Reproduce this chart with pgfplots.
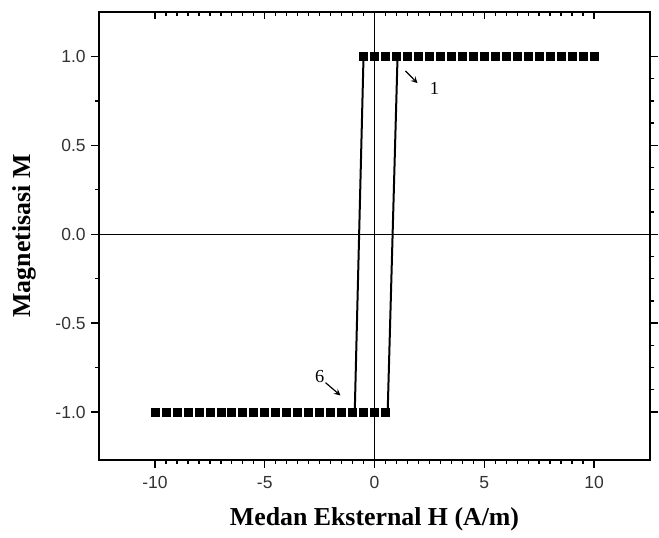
\documentclass[border=0pt]{standalone}
\usepackage{fontspec}
\setmainfont{Liberation Serif}
\setsansfont{Liberation Sans}
\usepackage{pgfplots}
\pgfplotsset{compat=1.18}
\pgfplotsset{
  common/.style={
    scale only axis,
    width=330.6pt, height=268.8pt,
    xmin=-12.55, xmax=12.55, ymin=-1.27, ymax=1.25,
    xtick={-10,-5,0,5,10},
    ytick={-1,-0.5,0,0.5,1},
    major tick length=4.5pt, minor tick length=2.4pt,
    every tick/.style={black, line width=0.8pt},
    axis line style={line width=1.1pt},
  }
}
\begin{document}
\begin{tikzpicture}
% top ticks (inside)
\begin{axis}[common,
  axis x line*=top, axis y line=none,
  tick align=inside, minor x tick num=9,
  xticklabels={}, ]
\addplot[draw=none] coordinates {(0,0)};
\end{axis}
% right ticks (outside)
\begin{axis}[common,
  axis y line*=right, axis x line=none,
  tick align=outside, minor y tick num=3,
  yticklabels={}, ]
\addplot[draw=none] coordinates {(0,0)};
\end{axis}
\begin{axis}[common,
  xtick pos=bottom, ytick pos=left,
  minor x tick num=9,
  minor y tick num=1,
  tick align=outside,
  /pgf/number format/assume math mode=true,
  ticklabel style={font=\sffamily\fontsize{10.5}{12}\selectfont, text=black!80},
  yticklabel style={/pgf/number format/fixed, /pgf/number format/fixed zerofill, /pgf/number format/precision=1},
  xticklabel style={/pgf/number format/fixed, yshift=-2pt},
  xlabel={\textbf{Medan Eksternal H (A/m)}},
  ylabel={\textbf{Magnetisasi M}},
  label style={font=\fontsize{15.5}{18}\selectfont},
  xlabel style={at={(axis description cs:0.5,-0.132)}, anchor=center},
  ylabel style={at={(axis description cs:-0.136,0.5)}, anchor=center},
  clip=false,
]
% reference axes lines
\addplot[black, line width=0.7pt, forget plot] coordinates {(0,-1.27) (0,1.25)};
\addplot[black, line width=0.7pt, forget plot] coordinates {(-12.55,0) (12.55,0)};
% loop branches
\addplot[black, line width=1.2pt, forget plot] coordinates {(-0.5,1) (-0.9,-1)};
\addplot[black, line width=1.2pt, forget plot] coordinates {(0.6,-1) (1.05,1)};
% upper saturated branch
\addplot[only marks, mark=square*, mark size=2.4pt, black] coordinates {
(-0.5,1)(0,1)(0.5,1)(1,1)(1.5,1)(2,1)(2.5,1)(3,1)(3.5,1)(4,1)(4.5,1)
(5,1)(5.5,1)(6,1)(6.5,1)(7,1)(7.5,1)(8,1)(8.5,1)(9,1)(9.5,1)(10,1)};
% lower saturated branch
\addplot[only marks, mark=square*, mark size=2.4pt, black] coordinates {
(-10,-1)(-9.5,-1)(-9,-1)(-8.5,-1)(-8,-1)(-7.5,-1)(-7,-1)(-6.5,-1)(-6,-1)(-5.5,-1)(-5,-1)
(-4.5,-1)(-4,-1)(-3.5,-1)(-3,-1)(-2.5,-1)(-2,-1)(-1.5,-1)(-1,-1)(-0.5,-1)(0,-1)(0.5,-1)};
% annotations
\draw[-stealth, line width=0.7pt] (axis cs:1.41,0.918) -- (axis cs:1.96,0.85);
\node[font=\fontsize{11}{13}\selectfont] at (axis cs:2.73,0.82) {1};
\draw[-stealth, line width=0.7pt] (axis cs:-2.23,-0.835) -- (axis cs:-1.55,-0.907);
\node[font=\fontsize{11}{13}\selectfont] at (axis cs:-2.5,-0.80) {6};
\end{axis}
\pgfresetboundingbox
\path (current axis.south west) ++(-59.4pt,-46.2pt) coordinate (bbA);
\path (current axis.north east) ++(5.4pt,7.2pt) coordinate (bbB);
\path[use as bounding box] (bbA) rectangle (bbB);
\end{tikzpicture}
\end{document}
